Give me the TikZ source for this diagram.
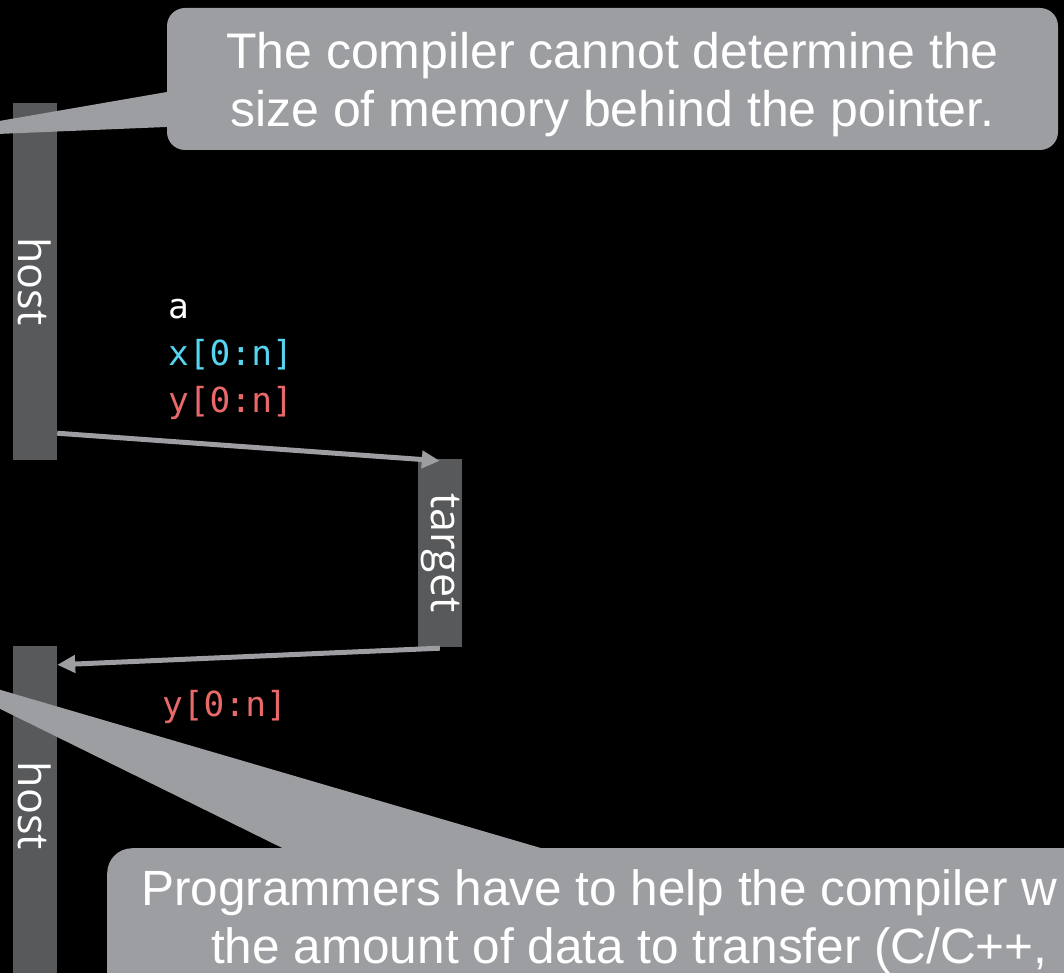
\documentclass[tikz,border=0pt]{standalone}
\usepackage{fontspec}
\setmainfont{Liberation Sans}
\setmonofont{DejaVu Sans Mono}
\newfontfamily\lanefont{Open Sans}
\usetikzlibrary{arrows.meta,calc}

\definecolor{calloutgray}{RGB}{157,158,162}
\definecolor{lanegray}{RGB}{88,89,91}
\definecolor{codecyan}{RGB}{86,212,240}
\definecolor{codered}{RGB}{233,105,107}

\begin{document}
\begin{tikzpicture}[x=1pt,y=-1pt,
  lane/.style={fill=lanegray, draw=none, inner sep=0pt, minimum width=44pt},
  lanelabel/.style={text=white, inner sep=0pt, rotate=-90,
    font=\lanefont\fontsize{43}{43}\selectfont},
  code/.style={inner sep=0pt, anchor=base west,
    font=\ttfamily\fontsize{34.5}{34.5}\selectfont},
  transfer/.style={draw=calloutgray, line width=5pt,
    -{Triangle[length=18pt,width=17pt]}},
  bubble/.style={fill=calloutgray, draw=none, inner sep=0pt},
  bubbletext/.style={text=white, inner sep=0pt,
    font=\fontsize{50}{50}\selectfont}
]
% canvas
\fill[black] (0,0) rectangle (1064,973);
\useasboundingbox (0,0) rectangle (1064,973);

% execution lanes
\node[lane, minimum height=357pt] (host1) at (35,281.5) {};
\node[lanelabel] (host1lbl) at (host1.center) {host};
\node[lane, minimum height=188pt] (target) at (440,553) {};
\node[lanelabel] (targetlbl) at (target.center) {target};
\node[lane, minimum height=330pt] (host2) at (35,811) {};
\node[lanelabel] (host2lbl) at (35,806) {host};

% data moved to the device
\node[code, text=white]     (va) at (168,318) {a};
\node[code, text=codecyan]  (vx) at (168,365) {x[0:n]};
\node[code, text=codered]   (vy) at (168,412) {y[0:n]};
% data copied back
\node[code, text=codered]   (vyback) at (162,716) {y[0:n]};

% transfers
\coordinate (h1out) at ($(host1.south east)+(0,-27)$);
\coordinate (tin)   at ($(target.north west)+(22,2)$);
\coordinate (tout)  at ($(target.south west)+(22,1)$);
\coordinate (h2in)  at ($(host2.north east)+(0,19)$);
\draw[transfer] (h1out) -- (tin);
\draw[transfer] (tout) -- (h2in);

% upper callout
\fill[calloutgray] (-99,138) -- (190,88) -- (190,126) -- cycle;
\node[bubble, rounded corners=18pt, minimum width=891pt, minimum height=142pt]
  (note1) at (612.5,79) {};
\node[bubbletext, anchor=base] (note1a) at (612.5,69) {The compiler cannot determine the};
\node[bubbletext, anchor=base] (note1b) at (612.5,127) {size of memory behind the pointer.};

% lower callout
\fill[calloutgray] (-95,662) -- (616,870) -- (327,870) -- cycle;
\node[bubble, rounded corners=25pt, minimum width=1100pt, minimum height=300pt,
  anchor=north west] (note2) at (107,848) {};
\node[bubbletext, anchor=base west, font=\fontsize{49.5}{49.5}\selectfont]
  (note2a) at (141,905) {Programmers have to help the compiler w};
\node[bubbletext, anchor=base west, font=\fontsize{49.5}{49.5}\selectfont]
  (note2b) at (211,963) {the amount of data to transfer (C/C++,};
\end{tikzpicture}
\end{document}
